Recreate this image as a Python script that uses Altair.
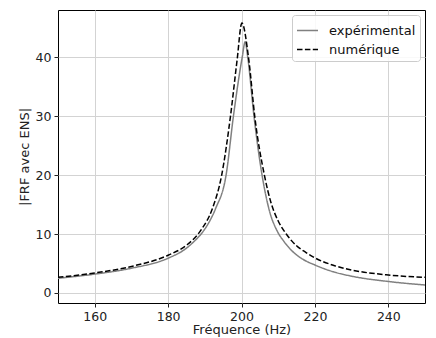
import altair as alt
import pandas as pd

exp_freq = [150, 160, 170, 180, 185, 187, 189, 191.5, 193, 195.8, 197.8, 200.2, 201.0, 201.7,
            203.4, 205.6, 207.5, 209.9, 211.5, 213.5, 216.5, 220, 225, 230, 240, 250]
exp_val = [2.5, 3.2, 4.2, 5.9, 7.6, 8.7, 10.0, 12.4, 14.4, 20.0, 30.0, 40.0, 42.6, 40.0,
           30.0, 20.0, 14.2, 10.3, 8.8, 7.3, 5.8, 4.75, 3.6, 2.85, 1.95, 1.35]

# numerical curve
num_freq = [150, 160, 170, 180, 185, 189, 192, 194.6, 197.0, 198.8, 200.1, 202.0,
            203.6, 206.3, 208, 210, 212.2, 215, 217.5, 220, 225, 230, 240, 250]
num_val = [2.65, 3.4, 4.5, 6.4, 8.1, 10.7, 14.2, 20.0, 30.0, 39.5, 45.8, 39.5,
           30.0, 19.8, 15.4, 12.2, 10.0, 8.0, 6.9, 5.95, 4.7, 3.9, 3.05, 2.65]

series_names = ["expérimental", "numérique"]
x_ticks = [160, 180, 200, 220, 240]
y_ticks = [0, 10, 20, 30, 40]

rows = []
for f, v in zip(exp_freq, exp_val):
    rows.append({"f": f, "v": v, "s": series_names[0]})
for f, v in zip(num_freq, num_val):
    rows.append({"f": f, "v": v, "s": series_names[1]})
df = pd.DataFrame(rows)

font = "DejaVu Sans"

chart = alt.Chart(df).mark_line(interpolate="monotone", strokeWidth=1.5).encode(
    x=alt.X("f:Q", scale=alt.Scale(domain=[150, 250], nice=False, zero=False),
            axis=alt.Axis(title="Fréquence (Hz)", values=x_ticks, format="d")),
    y=alt.Y("v:Q", scale=alt.Scale(domain=[-1.7, 48], nice=False, zero=False),
            axis=alt.Axis(title="|FRF avec ENS|", values=y_ticks, format="d")),
    color=alt.Color("s:N", scale=alt.Scale(domain=series_names, range=["#808080", "#000000"]),
                    legend=alt.Legend(title=None, orient="top-right")),
    strokeDash=alt.StrokeDash("s:N", scale=alt.Scale(domain=series_names, range=[[1, 0], [5.5, 2.4]]),
                              legend=alt.Legend(title=None, orient="top-right")),
).properties(
    width=367, height=293,
    autosize=alt.AutoSizeParams(type="none"),
    padding={"left": 50, "top": 2, "right": 3, "bottom": 35},
).configure_view(
    stroke="#000000", strokeWidth=1
).configure_axis(
    labelFont=font, titleFont=font, labelFontSize=12.5, titleFontSize=13,
    labelColor="#222222", titleColor="#222222", titleFontWeight="normal",
    grid=True, gridColor="#d3d3d3", gridWidth=1,
    domain=False, tickColor="#222222", tickSize=4, labelPadding=3,
).configure_axisX(
    titlePadding=1
).configure_axisY(
    titlePadding=4
).configure_legend(
    labelFont=font, labelFontSize=13, labelColor="#111111",
    symbolType="stroke", symbolSize=441, symbolStrokeWidth=1.5,
    strokeColor="#cccccc", fillColor="rgba(255,255,255,0.85)", cornerRadius=3,
    padding=4, offset=5, rowPadding=0, labelOffset=10,
)

chart.save("out.html", embed_options={"renderer": "svg", "actions": False})
